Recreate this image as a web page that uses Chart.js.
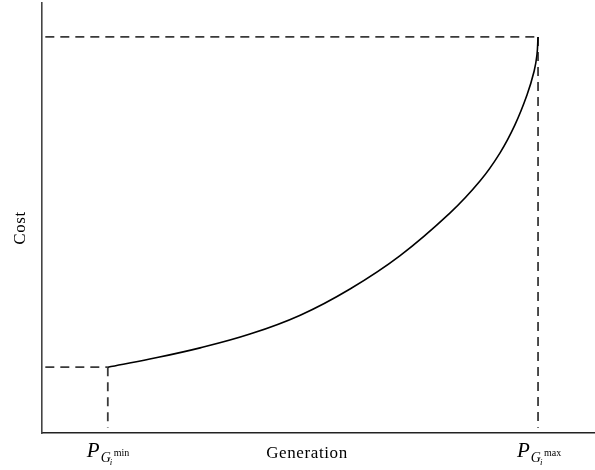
<!DOCTYPE html>
<html>
<head>
<meta charset="utf-8">
<title>Cost vs Generation</title>
<script src="https://cdn.jsdelivr.net/npm/chart.js@4.4.1/dist/chart.umd.min.js"></script>
<style>
	html, body { margin: 0; padding: 0; background: #fff; }
	#wrap { width: 595px; height: 470px; }
</style>
</head>
<body>
<div id="wrap"><canvas id="canvas"></canvas></div>

<script>
	// curve (generation, cost)
	var genValues  = [11.9, 19.5, 28.6, 37.6, 46.7, 55.7, 64.7, 73.8, 79.2, 82.8, 85.5, 87.7, 89.0, 89.5, 89.7];
	var costValues = [15.3, 17.2, 19.8, 23.0, 27.4, 33.5, 41.2, 51.2, 58.6, 65.1, 71.6, 78.6, 84.2, 87.9, 92.1];

	var pMin = 11.9, pMax = 89.7;
	var costAtMin = 15.3, costAtMax = 92.1;
	var xRange = [0, 100], yRange = [0, 100];

	var axisTitles = { x: "Generation", y: "Cost" };
	var tickLabels = [
		{ value: pMin, sup: "min" },
		{ value: pMax, sup: "max" }
	];

	var curve = genValues.map(function (g, i) { return { x: g, y: costValues[i] }; });

	function dashed(points) {
		return {
			data: points,
			borderColor: "#3a3a3a",
			borderWidth: 1.8,
			borderDash: [9, 6],
			pointRadius: 0,
			fill: false
		};
	}

	var serif = "'Liberation Serif', 'DejaVu Serif', serif";

	// axis titles and the P_Gi labels (need subscripts, so drawn by hand)
	var labelPlugin = {
		id: "labels",
		afterDraw: function (chart) {
			var ctx = chart.ctx;
			var xs = chart.scales.x;
			ctx.save();
			ctx.fillStyle = "#000";
			ctx.textBaseline = "alphabetic";

			ctx.font = "17px " + serif;
			ctx.letterSpacing = "0.6px";
			ctx.textAlign = "center";
			ctx.fillText(axisTitles.x, 307, 458);

			ctx.save();
			ctx.translate(25, 228);
			ctx.rotate(-Math.PI / 2);
			ctx.fillText(axisTitles.y, 0, 0);
			ctx.restore();
			ctx.letterSpacing = "0px";

			tickLabels.forEach(function (t) {
				var cx = xs.getPixelForValue(t.value);
				var x0 = cx - 21;
				ctx.textAlign = "left";
				ctx.font = "italic 21px " + serif;
				ctx.fillText("P", x0, 457);
				var w = ctx.measureText("P").width;
				ctx.font = "italic 14px " + serif;
				ctx.fillText("G", x0 + w + 1, 462);
				var wg = ctx.measureText("G").width;
				ctx.font = "italic 9px " + serif;
				ctx.fillText("i", x0 + w + wg, 465);
				ctx.font = "10px " + serif;
				ctx.fillText(t.sup, x0 + w + wg + 4, 456);
			});
			ctx.restore();
		}
	};

	var config = {
		type: "line",
		data: {
			datasets: [
				{
					data: curve,
					borderColor: "#000",
					borderWidth: 1.6,
					pointRadius: 0,
					tension: 0.4,
					fill: false
				},
				dashed([{ x: 0.6, y: costAtMin }, { x: pMin, y: costAtMin }]),
				dashed([{ x: pMin, y: costAtMin }, { x: pMin, y: 1.2 }]),
				dashed([{ x: 0.6, y: costAtMax }, { x: pMax, y: costAtMax }]),
				dashed([{ x: pMax, y: costAtMax }, { x: pMax, y: 1.2 }])
			]
		},
		options: {
			responsive: false,
			animation: false,
			layout: { padding: { left: 34, top: 3, right: 0, bottom: 29 } },
			plugins: { legend: { display: false }, tooltip: { enabled: false } },
			scales: {
				x: {
					type: "linear",
					min: xRange[0], max: xRange[1],
					grid: { display: false },
					ticks: { display: false },
					border: { display: true, color: "#222", width: 1.6 }
				},
				y: {
					type: "linear",
					min: yRange[0], max: yRange[1],
					grid: { display: false },
					ticks: { display: false },
					border: { display: true, color: "#444", width: 1.6 }
				}
			}
		},
		plugins: [labelPlugin]
	};

	var canvas = document.getElementById("canvas");
	canvas.width = 595;
	canvas.height = 470;
	window.myChart = new Chart(canvas.getContext("2d"), config);
</script>
</body>
</html>
